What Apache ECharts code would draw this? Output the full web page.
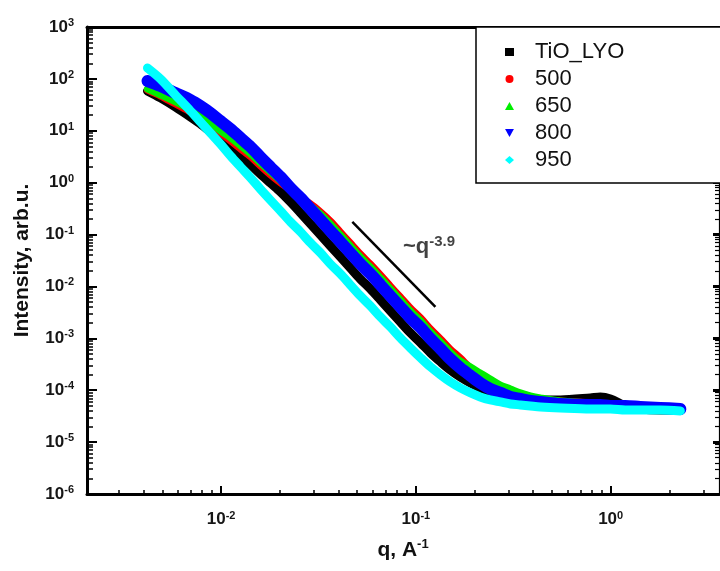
<!DOCTYPE html>
<html><head><meta charset="utf-8">
<script src="https://cdn.jsdelivr.net/npm/echarts@6/dist/echarts.min.js"></script>
<style>html,body{margin:0;padding:0;background:#fff}#c{width:720px;height:571px}</style>
</head><body><div id="c"></div>
<script>
// ---- data ----
const q = [0.00419, 0.00489, 0.00583, 0.00697, 0.00784, 0.00882, 0.00993, 0.0112, 0.0126, 0.0142,
  0.0159, 0.0179, 0.0202, 0.0227, 0.0256, 0.0288, 0.0324, 0.0364, 0.0410, 0.0461,
  0.0519, 0.0584, 0.0658, 0.0740, 0.0833, 0.0938, 0.106, 0.119, 0.134, 0.150,
  0.169, 0.191, 0.214, 0.241, 0.272, 0.306, 0.344, 0.387, 0.436, 0.552,
  0.787, 0.885, 0.997, 1.19, 1.42, 1.80, 2.28];
const iTiO = [58.5, 42.9, 28.7, 18.4, 13.5, 9.48, 6.65, 4.66, 3.27, 2.19,
  1.47, 0.987, 0.662, 0.425, 0.261, 0.160, 0.0982, 0.0603, 0.0370, 0.0227,
  0.0139, 0.00895, 0.00549, 0.00337, 0.00207, 0.00127, 0.000815, 0.000523, 0.000351, 0.000246,
  0.000180, 0.000138, 0.000111, 9.27e-5, 8.12e-5, 7.43e-5, 7.10e-5, 6.80e-5, 6.50e-5, 6.50e-5,
  7.10e-5, 7.43e-5, 6.80e-5, 4.98e-5, 4.36e-5, 4.17e-5, 4.17e-5];
const i500 = [61.1, 46.8, 32.8, 23.0, 17.6, 12.9, 9.07, 6.36, 4.46, 3.13,
  2.10, 1.41, 0.987, 0.723, 0.507, 0.389, 0.273, 0.183, 0.112, 0.0689,
  0.0423, 0.0271, 0.0167, 0.0102, 0.00627, 0.00385, 0.00247, 0.00152, 0.000973, 0.000625,
  0.000419, 0.000269, 0.000189, 0.000138, 0.000111, 9.27e-5, 8.12e-5, 7.43e-5, 6.80e-5, 6.22e-5,
  5.69e-5, 5.44e-5, 5.21e-5, 4.98e-5, 4.77e-5, 4.56e-5, 4.36e-5];
const i650 = [63.9, 49.0, 35.9, 25.2, 19.3, 14.1, 9.91, 7.26, 5.10, 3.57,
  2.40, 1.61, 1.08, 0.723, 0.507, 0.356, 0.249, 0.160, 0.0982, 0.0603,
  0.0370, 0.0237, 0.0146, 0.00895, 0.00549, 0.00337, 0.00216, 0.00133, 0.000852, 0.000547,
  0.000367, 0.000281, 0.000215, 0.000165, 0.000126, 0.000106, 8.87e-5, 7.77e-5, 7.10e-5, 6.22e-5,
  5.69e-5, 5.44e-5, 5.21e-5, 4.98e-5, 4.77e-5, 4.56e-5, 4.36e-5];
const i800 = [91.1, 73.0, 53.5, 39.2, 30.0, 22.0, 15.4, 10.8, 7.26, 4.87,
  3.13, 2.01, 1.29, 0.790, 0.507, 0.311, 0.191, 0.117, 0.0720, 0.0442,
  0.0271, 0.0174, 0.0107, 0.00656, 0.00403, 0.00247, 0.00159, 0.000973, 0.000625, 0.000401,
  0.000269, 0.000189, 0.000138, 0.000106, 8.87e-5, 7.43e-5, 6.80e-5, 6.22e-5, 5.95e-5, 5.44e-5,
  5.21e-5, 5.21e-5, 4.98e-5, 4.98e-5, 4.77e-5, 4.56e-5, 4.36e-5];
const i950 = [162, 99.5, 49.0, 24.1, 14.8, 9.07, 5.57, 3.27, 2.01, 1.23,
  0.756, 0.464, 0.285, 0.175, 0.112, 0.0689, 0.0442, 0.0271, 0.0174, 0.0107,
  0.00656, 0.00421, 0.00258, 0.00166, 0.00102, 0.000653, 0.000419, 0.000281, 0.000197, 0.000145,
  0.000111, 8.87e-5, 7.43e-5, 6.50e-5, 5.95e-5, 5.44e-5, 5.21e-5, 4.98e-5, 4.77e-5, 4.56e-5,
  4.36e-5, 4.36e-5, 4.36e-5, 4.17e-5, 4.17e-5, 4.17e-5, 3.99e-5];
const seriesNames = ['TiO_LYO', '500', '650', '800', '950'];
// power-law guide line and its label
const guideQ = [0.0472, 0.126];
const guideI = [0.175, 0.00403];
const guideLabelQ = 0.0833, guideLabelI = 0.0577;
const guideText = ['~q', '-3.9'];
// axes
const xMin = 0.00205, xMax = 3.6, yMin = 1e-6, yMax = 1e3;
const xMajor = [0.01, 0.1, 1];
const xMinor = [0.003, 0.004, 0.005, 0.006, 0.007, 0.008, 0.009,
  0.02, 0.03, 0.04, 0.05, 0.06, 0.07, 0.08, 0.09,
  0.2, 0.3, 0.4, 0.5, 0.6, 0.7, 0.8, 0.9, 2, 3];
const yMajor = [1e-6, 1e-5, 1e-4, 1e-3, 1e-2, 1e-1, 1, 10, 100, 1000];
const yMinor = [];
[1e-6, 1e-5, 1e-4, 1e-3, 1e-2, 1e-1, 1, 10, 100].forEach(d => {
  [2, 3, 4, 5, 6, 7, 8, 9].forEach(m => yMinor.push(+(d * m).toPrecision(3)));
});
const xTitle = ['q, A', '-1'];
const yTitle = 'Intensity, arb.u.';

// ---- chart ----
const FONT = '"Liberation Sans", Arial, sans-serif';
const chart = echarts.init(document.getElementById('c'), null, {renderer: 'canvas'});
const expFmt = v => '{b|10}{s|' + Math.round(Math.log10(v)) + '}';
const labRich = {
  b: {fontSize: 17, fontWeight: 'bold', fontFamily: FONT, color: '#161616', lineHeight: 19},
  s: {fontSize: 11, fontWeight: 'bold', fontFamily: FONT, color: '#161616', lineHeight: 11, verticalAlign: 'top'}
};
const blk = '#000';
function mk(name, arr, color, width) {
  return {
    name, type: 'line', xAxisIndex: 0, yAxisIndex: 0,
    data: q.map((v, i) => [v, arr[i]]),
    showSymbol: false, symbol: 'none', smooth: 0.3,
    lineStyle: {color, width, cap: 'round', join: 'round'},
    itemStyle: {color}, silent: true
  };
}
const ax = {min: xMin, max: xMax, type: 'log', logBase: 10, splitLine: {show: false}};
const ay = {min: yMin, max: yMax, type: 'log', logBase: 10, interval: 1, splitLine: {show: false}};
chart.setOption({
  animation: false,
  backgroundColor: '#fff',
  grid: {left: 87, right: 1, top: 27, bottom: 77, containLabel: false},
  xAxis: [
    Object.assign({}, ax, {
      position: 'bottom',
      axisLine: {show: true, lineStyle: {color: blk, width: 3}},
      axisTick: {show: true, inside: true, length: 8, lineStyle: {color: blk, width: 2}, customValues: xMajor},
      axisLabel: {show: true, margin: 16, customValues: xMajor, formatter: expFmt, rich: labRich},
      name: '{n|' + xTitle[0] + '}{s|' + xTitle[1] + '}', nameLocation: 'middle', nameGap: 44,
      nameTextStyle: {rich: {
        n: {fontSize: 21, fontWeight: 'bold', fontFamily: FONT, color: '#111', lineHeight: 24},
        s: {fontSize: 13, fontWeight: 'bold', fontFamily: FONT, color: '#111', lineHeight: 13, verticalAlign: 'top'}
      }}
    }),
    Object.assign({}, ax, {
      position: 'bottom',
      axisLine: {show: false},
      axisTick: {show: true, inside: true, length: 4, lineStyle: {color: blk, width: 1.5}, customValues: xMinor},
      axisLabel: {show: false}
    }),
    Object.assign({}, ax, {
      position: 'top',
      axisLine: {show: true, lineStyle: {color: blk, width: 3}},
      axisTick: {show: false}, axisLabel: {show: false}
    })
  ],
  yAxis: [
    Object.assign({}, ay, {
      position: 'left',
      axisLine: {show: true, lineStyle: {color: blk, width: 3}},
      axisTick: {show: true, inside: true, length: 10, lineStyle: {color: blk, width: 2}, customValues: yMajor},
      axisLabel: {show: true, margin: 13, customValues: yMajor, formatter: expFmt, rich: labRich},
      name: yTitle, nameLocation: 'middle', nameGap: 54, nameRotate: 90,
      nameTextStyle: {fontSize: 21, fontWeight: 'bold', fontFamily: FONT, color: '#111'}
    }),
    Object.assign({}, ay, {
      position: 'left',
      axisLine: {show: false},
      axisTick: {show: true, inside: true, length: 6, lineStyle: {color: blk, width: 1.5}, customValues: yMinor},
      axisLabel: {show: false}
    }),
    Object.assign({}, ay, {
      position: 'right',
      axisLine: {show: true, lineStyle: {color: blk, width: 1.2}},
      axisTick: {show: true, inside: true, length: 6, lineStyle: {color: blk, width: 3}, customValues: yMajor},
      axisLabel: {show: false}
    }),
    Object.assign({}, ay, {
      position: 'right',
      axisLine: {show: false},
      axisTick: {show: true, inside: true, length: 4, lineStyle: {color: blk, width: 1.2}, customValues: yMinor},
      axisLabel: {show: false}
    })
  ],
  legend: {
    left: 476, top: 27, orient: 'vertical',
    padding: [13, 120, 11, 29],
    itemWidth: 9, itemHeight: 8, itemGap: 3,
    backgroundColor: '#fff', borderColor: '#000', borderWidth: 1.5, borderRadius: 0,
    textStyle: {fontSize: 22, fontFamily: FONT, color: '#111', lineHeight: 24, padding: [0, 0, 0, 16]},
    selectedMode: false,
    data: [
      {name: seriesNames[0], icon: 'rect'},
      {name: seriesNames[1], icon: 'circle'},
      {name: seriesNames[2], icon: 'triangle'},
      {name: seriesNames[3], icon: 'path://M0,0L10,0L5,9Z'},
      {name: seriesNames[4], icon: 'diamond'}
    ]
  },
  series: [
    mk(seriesNames[0], iTiO, '#000000', 9),
    mk(seriesNames[1], i500, '#ff0000', 7),
    mk(seriesNames[2], i650, '#00ee00', 7),
    mk(seriesNames[3], i800, '#0000ff', 12),
    mk(seriesNames[4], i950, '#00ffff', 9),
    {
      name: 'guide', type: 'line', data: guideQ.map((v, i) => [v, guideI[i]]),
      showSymbol: false, symbol: 'none', silent: true,
      lineStyle: {color: '#000', width: 2.5}, z: 5
    },
    {
      name: 'guideLabel', type: 'scatter', data: [[guideLabelQ, guideLabelI]],
      symbolSize: 1, itemStyle: {color: 'rgba(0,0,0,0)'}, silent: true, z: 5,
      label: {
        show: true, position: 'right', distance: 2,
        formatter: '{a|' + guideText[0] + '}{b|' + guideText[1] + '}',
        rich: {
          a: {fontSize: 22, fontWeight: 'bold', fontFamily: FONT, color: '#111', lineHeight: 26},
          b: {fontSize: 15, fontWeight: 'bold', fontFamily: FONT, color: '#111', lineHeight: 15, verticalAlign: 'top'}
        }
      }
    }
  ]
});
</script>
</body></html>
